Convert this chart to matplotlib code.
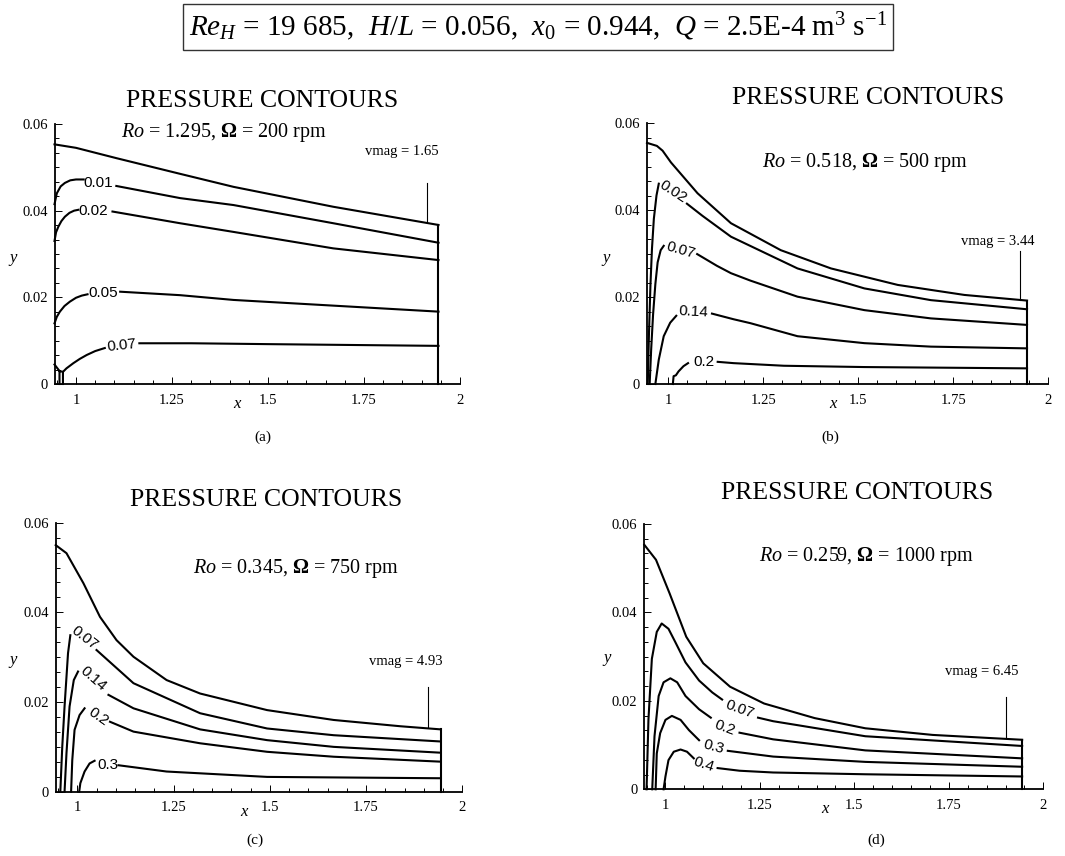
import numpy as np
import matplotlib
matplotlib.use("Agg")
import matplotlib.pyplot as plt
from matplotlib.ticker import FixedLocator, FixedFormatter, MultipleLocator

plt.rcParams["font.family"] = "Liberation Serif"
plt.rcParams["mathtext.fontset"] = "custom"
plt.rcParams["mathtext.rm"] = "Liberation Serif"
plt.rcParams["mathtext.it"] = "Liberation Serif:italic"
plt.rcParams["mathtext.bf"] = "Liberation Serif:bold"
plt.rcParams["lines.solid_joinstyle"] = "round"

W, H = 1065, 856
X0, XE = 0.944, 1.944
nan = np.nan

# ---- (a) Ro = 1.295, 200 rpm -------------------------------------------
a_top_x = [0.944, 1.000, 1.106, 1.271, 1.410, 1.670, 1.944]
a_top_y = [0.0553, 0.0545, 0.0521, 0.0485, 0.0455, 0.0409, 0.0367]
a_01_x = [0.944, 0.950, 0.960, 0.971, 0.985, 1.000, 1.020, nan, 1.105, 1.271, 1.410, 1.670, 1.944]
a_01_y = [0.0415, 0.0440, 0.0456, 0.0464, 0.0470, 0.0472, 0.0472, nan, 0.0457, 0.0429, 0.0413, 0.0371, 0.0326]
a_02_x = [0.944, 0.948, 0.954, 0.962, 0.971, 0.983, 0.995, 1.006, nan, 1.095, 1.271, 1.410, 1.670, 1.944]
a_02_y = [0.0330, 0.0350, 0.0363, 0.0376, 0.0386, 0.0395, 0.0400, 0.0402, nan, 0.0398, 0.0371, 0.0351, 0.0313, 0.0286]
a_05_x = [0.944, 0.950, 0.958, 0.970, 0.984, 1.000, 1.015, 1.030, nan, 1.115, 1.271, 1.410, 1.944]
a_05_y = [0.0140, 0.0155, 0.0167, 0.0180, 0.0190, 0.0199, 0.0204, 0.0207, nan, 0.0213, 0.0205, 0.0194, 0.0167]
a_07_x = [0.966, 0.966, 0.975, 0.993, 1.010, 1.028, 1.050, 1.075, nan, 1.165, 1.300, 1.500, 1.944]
a_07_y = [0.0, 0.0028, 0.0036, 0.0048, 0.0058, 0.0067, 0.0076, 0.0083, nan, 0.0094, 0.0094, 0.0092, 0.0088]
a_stub_x = [0.944, 0.950, 0.957, 0.966, nan, 0.957, 0.957]
a_stub_y = [0.0045, 0.0038, 0.0030, 0.0028, nan, 0.0030, 0.0]
a_lab = ["0.01", "0.02", "0.05", "0.07"]
a_lab_x = [1.057, 1.045, 1.070, 1.120]
a_lab_y = [0.0465, 0.0400, 0.0209, 0.0088]
a_lab_rot = [0, 0, 0, 6]

# ---- (b) Ro = 0.518, 500 rpm -------------------------------------------
b_top_x = [0.944, 0.970, 0.985, 1.007, 1.077, 1.165, 1.296, 1.428, 1.604, 1.779, 1.944]
b_top_y = [0.0555, 0.0548, 0.0537, 0.0510, 0.0439, 0.0370, 0.0308, 0.0266, 0.0228, 0.0205, 0.0192]
b_02_x = [0.946, 0.949, 0.953, 0.957, 0.962, 0.969, 0.975, nan, 1.049, 1.090, 1.165, 1.340, 1.516, 1.691, 1.944]
b_02_y = [0.0, 0.0110, 0.0226, 0.0310, 0.0380, 0.0434, 0.0461, nan, 0.0415, 0.0387, 0.0339, 0.0266, 0.0220, 0.0193, 0.0172]
b_07_x = [0.951, 0.955, 0.960, 0.966, 0.972, 0.980, 0.988, nan, 1.076, 1.128, 1.165, 1.216, 1.340, 1.516, 1.691, 1.944]
b_07_y = [0.0, 0.0080, 0.0160, 0.0230, 0.0280, 0.0308, 0.0318, nan, 0.0299, 0.0272, 0.0255, 0.0238, 0.0201, 0.0170, 0.0151, 0.0136]
b_14_x = [0.966, 0.975, 0.988, 1.005, 1.021, nan, 1.115, 1.172, 1.216, 1.340, 1.516, 1.691, 1.944]
b_14_y = [0.0, 0.0056, 0.0110, 0.0141, 0.0157, nan, 0.0162, 0.0149, 0.0140, 0.0110, 0.0094, 0.0086, 0.0082]
b_2_x = [1.012, 1.014, 1.020, 1.027, 1.040, 1.052, nan, 1.130, 1.172, 1.304, 1.516, 1.944]
b_2_y = [0.0, 0.0018, 0.0020, 0.0029, 0.0041, 0.0048, nan, 0.0051, 0.0048, 0.0042, 0.0039, 0.0036]
b_lab = ["0.02", "0.07", "0.14", "0.2"]
b_lab_x = [1.012, 1.032, 1.067, 1.094]
b_lab_y = [0.0443, 0.0307, 0.0166, 0.0050]
b_lab_rot = [-33, -16, -3, 0]

# ---- (c) Ro = 0.345, 750 rpm -------------------------------------------
c_top_x = [0.944, 0.972, 1.016, 1.059, 1.102, 1.146, 1.232, 1.319, 1.493, 1.666, 1.839, 1.944]
c_top_y = [0.0550, 0.0532, 0.0465, 0.0390, 0.0338, 0.0301, 0.0249, 0.0219, 0.0182, 0.0160, 0.0146, 0.0139]
c_07_x = [0.956, 0.961, 0.967, 0.976, 0.982, nan, 1.050, 1.146, 1.319, 1.493, 1.666, 1.944]
c_07_y = [0.0, 0.0100, 0.0190, 0.0309, 0.0349, nan, 0.0316, 0.0242, 0.0175, 0.0141, 0.0126, 0.0112]
c_14_x = [0.967, 0.972, 0.980, 0.991, 1.002, nan, 1.081, 1.146, 1.319, 1.493, 1.666, 1.944]
c_14_y = [0.0, 0.0086, 0.0190, 0.0249, 0.0268, nan, 0.0216, 0.0186, 0.0139, 0.0115, 0.0100, 0.0087]
c_2_x = [0.984, 0.987, 0.993, 1.006, 1.019, nan, 1.085, 1.146, 1.319, 1.493, 1.666, 1.944]
c_2_y = [0.0, 0.0070, 0.0138, 0.0171, 0.0186, nan, 0.0156, 0.0134, 0.0108, 0.0089, 0.0078, 0.0067]
c_3_x = [1.005, 1.008, 1.019, 1.032, 1.045, nan, 1.107, 1.232, 1.493, 1.944]
c_3_y = [0.0, 0.0019, 0.0045, 0.0063, 0.0069, nan, 0.0059, 0.0045, 0.0033, 0.0030]
c_lab = ["0.07", "0.14", "0.2", "0.3"]
c_lab_x = [1.019, 1.041, 1.054, 1.080]
c_lab_y = [0.0342, 0.0251, 0.0167, 0.0060]
c_lab_rot = [-38, -41, -35, 0]

# ---- (d) Ro = 0.259, 1000 rpm ------------------------------------------
d_top_x = [0.944, 0.975, 1.011, 1.055, 1.100, 1.171, 1.261, 1.395, 1.529, 1.707, 1.944]
d_top_y = [0.0553, 0.0519, 0.0443, 0.0345, 0.0285, 0.0232, 0.0194, 0.0161, 0.0138, 0.0123, 0.0112]
d_07_x = [0.950, 0.955, 0.964, 0.977, 0.990, 1.008, 1.026, 1.053, 1.089, 1.124, 1.150, nan, 1.245, 1.285, 1.350, 1.529, 1.944]
d_07_y = [0.0, 0.0158, 0.0295, 0.0356, 0.0375, 0.0363, 0.0333, 0.0287, 0.0246, 0.0219, 0.0203, nan, 0.0162, 0.0154, 0.0145, 0.0120, 0.0098]
d_2_x = [0.965, 0.971, 0.982, 0.995, 1.013, 1.031, 1.053, 1.089, 1.120, nan, 1.196, 1.285, 1.529, 1.944]
d_2_y = [0.0, 0.0120, 0.0211, 0.0242, 0.0251, 0.0242, 0.0211, 0.0181, 0.0162, nan, 0.0128, 0.0113, 0.0088, 0.0070]
d_3_x = [0.974, 0.977, 0.986, 1.000, 1.017, 1.040, 1.062, 1.089, nan, 1.165, 1.285, 1.529, 1.944]
d_3_y = [0.0, 0.0081, 0.0127, 0.0157, 0.0166, 0.0157, 0.0134, 0.0111, nan, 0.0087, 0.0074, 0.0062, 0.0051]
d_4_x = [0.995, 1.000, 1.008, 1.022, 1.040, 1.057, 1.075, nan, 1.138, 1.196, 1.285, 1.529, 1.944]
d_4_y = [0.0, 0.0029, 0.0066, 0.0085, 0.0090, 0.0085, 0.0070, nan, 0.0048, 0.0042, 0.0038, 0.0034, 0.0029]
d_lab = ["0.07", "0.2", "0.3", "0.4"]
d_lab_x = [1.196, 1.158, 1.127, 1.102]
d_lab_y = [0.0180, 0.0140, 0.0097, 0.0057]
d_lab_rot = [-20, -20, -15, -18]

ro_text = [r"$Ro$ = 1.295, $\mathbf{\Omega}$ = 200 rpm",
           r"$Ro$ = 0.518, $\mathbf{\Omega}$ = 500 rpm",
           r"$Ro$ = 0.345, $\mathbf{\Omega}$ = 750 rpm",
           r"$Ro$ = 0.259, $\mathbf{\Omega}$ = 1000 rpm"]
vmag = [1.65, 3.44, 4.93, 6.45]
captions = ["(a)", "(b)", "(c)", "(d)"]

# vmag reference marker: x position and vertical extent
vmag_x = [1.915, 1.926, 1.912, 1.902]
vmag_y0 = [0.0375, 0.0193, 0.0145, 0.0119]
vmag_y1 = [0.0463, 0.0305, 0.0234, 0.0209]

panels = [
    dict(top=(a_top_x, a_top_y),
         lines=[(a_01_x, a_01_y), (a_02_x, a_02_y), (a_05_x, a_05_y), (a_07_x, a_07_y), (a_stub_x, a_stub_y)],
         labels=(a_lab, a_lab_x, a_lab_y, a_lab_rot),
         rect=(54.5, 384, 405.5, 260), title=(262, 101), ro=(224, 133), vm=(402, 152),
         cap=(263, 437), xlab=1.42, ylab=(-0.102, 0.483)),
    dict(top=(b_top_x, b_top_y),
         lines=[(b_02_x, b_02_y), (b_07_x, b_07_y), (b_14_x, b_14_y), (b_2_x, b_2_y)],
         labels=(b_lab, b_lab_x, b_lab_y, b_lab_rot),
         rect=(647, 384, 401.3, 260.7), title=(868, 98), ro=(865, 163), vm=(998, 242),
         cap=(830, 437), xlab=1.432, ylab=(-0.102, 0.483)),
    dict(top=(c_top_x, c_top_y),
         lines=[(c_07_x, c_07_y), (c_14_x, c_14_y), (c_2_x, c_2_y), (c_3_x, c_3_y)],
         labels=(c_lab, c_lab_x, c_lab_y, c_lab_rot),
         rect=(55.7, 791.7, 406.6, 269), title=(266, 500), ro=(296, 568), vm=(406, 662),
         cap=(255, 840), xlab=1.432, ylab=(-0.104, 0.49)),
    dict(top=(d_top_x, d_top_y),
         lines=[(d_07_x, d_07_y), (d_2_x, d_2_y), (d_3_x, d_3_y), (d_4_x, d_4_y)],
         labels=(d_lab, d_lab_x, d_lab_y, d_lab_rot),
         rect=(644.3, 789.3, 399, 265.3), title=(857, 493), ro=(866, 557), vm=(982, 672),
         cap=(876, 840), xlab=1.421, ylab=(-0.094, 0.494)),
]


def fx(px):
    return px / W


def fy(py):
    return 1 - py / H


fig = plt.figure(figsize=(W / 100, H / 100), dpi=100)

# header box with the run parameters
fig.text(fx(538), fy(27),
         r"$Re_H$ = 19 685,  $H/L$ = 0.056,  $x_0$ = 0.944,  $Q$ = 2.5E-4 m$^3$ s$^{-1}$",
         ha="center", va="center", fontsize=21,
         bbox=dict(boxstyle="square,pad=0.22", fc="white", ec="#333333", lw=1.0))

for i, p in enumerate(panels):
    left, base, wid, hgt = p["rect"]
    ax = fig.add_axes([fx(left), fy(base), wid / W, hgt / H])
    ax.set_xlim(X0, 2.0)
    ax.set_ylim(0, 0.06)
    for s in ("top", "right"):
        ax.spines[s].set_visible(False)
    for s in ("left", "bottom"):
        ax.spines[s].set_linewidth(1.3)

    ax.xaxis.set_major_locator(FixedLocator([1, 1.25, 1.5, 1.75, 2]))
    ax.xaxis.set_major_formatter(FixedFormatter(["1", "1.25", "1.5", "1.75", "2"]))
    ax.xaxis.set_minor_locator(MultipleLocator(0.05))
    ax.yaxis.set_major_locator(FixedLocator([0, 0.02, 0.04, 0.06]))
    ax.yaxis.set_major_formatter(FixedFormatter(["0", "0.02", "0.04", "0.06"]))
    ax.yaxis.set_minor_locator(MultipleLocator(0.02 / 6))
    ax.tick_params(which="both", direction="in", width=0.7, labelsize=10.5)
    ax.tick_params(which="major", length=5)
    ax.tick_params(which="minor", length=3)
    ax.tick_params(axis="x", pad=7)
    ax.tick_params(axis="y", pad=5)

    # outer wall contour and the exit boundary
    tx, ty = p["top"]
    ax.plot(tx, ty, color="black", lw=1.5, clip_on=False)
    ax.plot([XE, XE], [0, ty[-1]], color="black", lw=1.5, clip_on=False)

    for lx, ly in p["lines"]:
        ax.plot(lx, ly, color="black", lw=1.5, clip_on=False)

    labs, lxs, lys, rots = p["labels"]
    for s, x, y, r in zip(labs, lxs, lys, rots):
        ax.text(x, y, s, ha="center", va="center", rotation=r, rotation_mode="anchor",
                fontsize=11, family="Liberation Sans")

    ax.plot([vmag_x[i], vmag_x[i]], [vmag_y0[i], vmag_y1[i]], color="black", lw=0.8)

    ax.text(p["xlab"], -0.075, "x", transform=ax.get_xaxis_transform(),
            ha="center", va="center", fontsize=12, style="italic")
    ax.text(p["ylab"][0], p["ylab"][1], "y", transform=ax.transAxes,
            ha="center", va="center", fontsize=12, style="italic")

    fig.text(fx(p["title"][0]), fy(p["title"][1]), "PRESSURE CONTOURS",
             ha="center", va="center", fontsize=18.5)
    fig.text(fx(p["ro"][0]), fy(p["ro"][1]), ro_text[i],
             ha="center", va="center", fontsize=14.5)
    fig.text(fx(p["vm"][0]), fy(p["vm"][1]), "vmag = %.2f" % vmag[i],
             ha="center", va="center", fontsize=10.5)
    fig.text(fx(p["cap"][0]), fy(p["cap"][1]), captions[i],
             ha="center", va="center", fontsize=11)

fig.savefig("out.png", dpi=100)
